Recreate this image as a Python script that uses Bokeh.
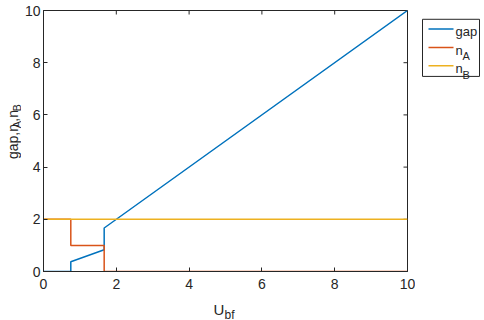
import math
from bokeh.plotting import figure
from bokeh.layouts import row, column
from bokeh.models import Range1d, LinearAxis, FixedTicker
from bokeh.embed import file_html
from bokeh.resources import INLINE
from bokeh.core.properties import value

# data (step breakpoints)
u_vals = [0, 0.75, 0.75, 1.667, 1.667, 10]
gap_vals = [0, 0, 0.375, 0.833, 1.667, 10]
nA_vals = [2, 2, 1, 1, 0, 0]
nB_vals = [2, 2, 2, 2, 2, 2]
x_ticks = [0, 2, 4, 6, 8, 10]
y_ticks = [0, 2, 4, 6, 8, 10]
series_names = ["gap", "n", "n"]
series_subs = ["", "A", "B"]
colors = ["#0072BD", "#D95319", "#EDB120"]

FONT = "Liberation Sans"
AX = "#262626"
YLW = 21  # width of the y-label strip


def blank(fig):
    fig.xgrid.visible = False
    fig.ygrid.visible = False
    fig.outline_line_color = None
    fig.background_fill_color = "white"
    fig.border_fill_color = "white"


# ---------------- main plot ----------------
p = figure(frame_width=364, frame_height=261, min_border_left=43 - YLW, min_border_top=10,
           min_border_bottom=26, min_border_right=8,
           x_range=Range1d(0, 10), y_range=Range1d(0, 10),
           output_backend="svg", toolbar_location=None,
           x_axis_location=None, y_axis_location=None)
blank(p)
p.outline_line_color = AX
p.outline_line_width = 1


def mk_axis(ticks, standoff):
    ax = LinearAxis(ticker=FixedTicker(ticks=ticks))
    ax.axis_line_color = AX
    ax.major_tick_line_color = AX
    ax.major_tick_in = 4
    ax.major_tick_out = 0
    ax.minor_tick_line_color = None
    ax.major_label_text_font = FONT
    ax.major_label_text_font_size = "14px"
    ax.major_label_text_color = AX
    ax.major_label_standoff = standoff
    return ax


p.add_layout(mk_axis(x_ticks, 7), "below")
p.add_layout(mk_axis(y_ticks, 3), "left")

# inward ticks on the top and right box edges
p.ray(x=x_ticks, y=[y_ticks[-1]] * len(x_ticks), length=4, length_units="screen",
      angle=-math.pi / 2, line_color=AX, line_width=1)
p.ray(x=[x_ticks[-1]] * len(y_ticks), y=y_ticks, length=4, length_units="screen",
      angle=math.pi, line_color=AX, line_width=1)

p.line(u_vals, gap_vals, line_color=colors[0], line_width=1.5)
p.line(u_vals, nA_vals, line_color=colors[1], line_width=1.5)
p.line(u_vals, nB_vals, line_color=colors[2], line_width=1.5)

# ---------------- y label (pixel space, y measured upward) ----------------
H = 297
yl = figure(width=YLW, height=H, x_range=Range1d(0, YLW), y_range=Range1d(0, H),
            output_backend="svg", toolbar_location=None, min_border=0,
            x_axis_location=None, y_axis_location=None)
blank(yl)
pieces = [("gap,n", "14px", 0, 35), ("A", "11px", 4, 7.5), (",n", "14px", 0, 11.7), ("B", "11px", 4, 7.5)]
pos = 169
for txt, fs, sub, w in pieces:
    yl.text(x=[12 + sub], y=[H - pos], text=[txt], angle=math.pi / 2, text_font=value(FONT),
            text_font_size=fs, text_color=AX, text_baseline="alphabetic")
    pos -= w

# ---------------- legend (pixel space) ----------------
lg = figure(width=69, height=H, x_range=Range1d(415, 484), y_range=Range1d(H, 0),
            output_backend="svg", toolbar_location=None, min_border=0,
            x_axis_location=None, y_axis_location=None)
blank(lg)
lg.quad(left=[422], right=[479], top=[10], bottom=[75], fill_color="white",
        line_color=AX, line_width=1)
ys = [21, 42, 63]
for i in range(3):
    lg.line([428, 453], [ys[i], ys[i]], line_color=colors[i], line_width=1.5)
    lg.text(x=[455], y=[ys[i] + 3], text=[series_names[i]], text_font=value(FONT),
            text_font_size="13px", text_color=AX, text_baseline="alphabetic")
    if series_subs[i]:
        lg.text(x=[462], y=[ys[i] + 10], text=[series_subs[i]], text_font=value(FONT),
                text_font_size="11px", text_color=AX, text_baseline="alphabetic")

# ---------------- x label (pixel space) ----------------
xl = figure(width=484, height=320 - H, x_range=Range1d(0, 484), y_range=Range1d(320, H),
            output_backend="svg", toolbar_location=None, min_border=0,
            x_axis_location=None, y_axis_location=None)
blank(xl)
xl.text(x=[213], y=[309], text=["U"], text_font=value(FONT), text_font_size="15px",
        text_color=AX, text_baseline="alphabetic")
xl.text(x=[224], y=[314], text=["bf"], text_font=value(FONT), text_font_size="12px",
        text_color=AX, text_baseline="alphabetic")

layout = column(row(yl, p, lg, spacing=0), xl, spacing=0)
open("out.html", "w").write(file_html(layout, INLINE))
